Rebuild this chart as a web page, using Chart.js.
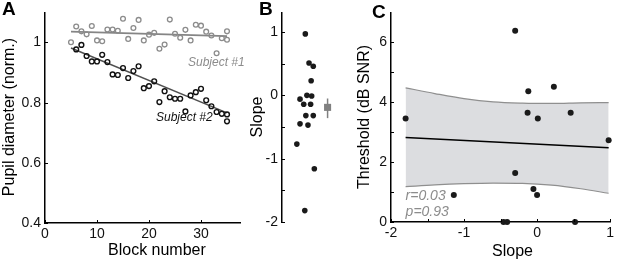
<!DOCTYPE html>
<html>
<head>
<meta charset="utf-8">
<script src="https://cdn.jsdelivr.net/npm/chart.js@4.4.0/dist/chart.umd.min.js"></script>
<style>
    html, body { margin: 0; padding: 0; background: #fff; }
    #wrap { position: relative; width: 617px; height: 259px; overflow: hidden; }
    canvas { position: absolute; top: 0; }
    #chartA { left: 0; }
    #chartB { left: 240px; }
    #chartC { left: 340px; }
</style>
</head>
<body>
<div id="wrap">
    <canvas id="chartA" width="250" height="259"></canvas>
    <canvas id="chartB" width="100" height="259"></canvas>
    <canvas id="chartC" width="277" height="259"></canvas>
</div>
<script>
// Panel A - pupil diameter per block, two subjects
const blocks1 = [5, 6, 7, 8, 9, 10, 11, 12, 13, 14, 15, 16, 17, 18, 19, 20, 21, 22, 23, 24, 25, 26, 27, 28, 29, 30, 31, 32, 33, 34, 35, 35];
const pupil1 = [1.001, 1.053, 1.037, 1.027, 1.055, 1.007, 1.004, 1.043, 1.043, 1.039, 1.079, 1.012, 1.048, 1.075, 1.007, 1.026,
    1.032, 0.979, 0.993, 1.076, 1.029, 1.016, 1.042, 1.007, 1.059, 1.056, 1.036, 1.023, 0.964, 1.014, 1.037, 1.009];
const blocks2 = [6, 7, 8, 9, 10, 11, 12, 13, 14, 15, 16, 17, 18, 19, 20, 21, 22, 23, 24, 25, 26, 27, 28, 29, 30, 31, 32, 33, 34, 35, 35];
const pupil2 = [0.977, 0.992, 0.955, 0.937, 0.937, 0.959, 0.935, 0.894, 0.892, 0.915, 0.882, 0.905, 0.921, 0.848, 0.855, 0.871,
    0.802, 0.838, 0.818, 0.813, 0.813, 0.771, 0.824, 0.835, 0.846, 0.808, 0.788, 0.769, 0.763, 0.761, 0.738];
const fit1X = [5, 35];
const fit1Y = [1.036, 1.021];
const fit2X = [5, 35];
const fit2Y = [0.982, 0.766];
const blockTicks = [0, 10, 20, 30];
const pupilTicks = [0.4, 0.6, 0.8, 1];

// Panel B - slope per subject (jittered strip) and mean with error bar
const slopes = [0.97, 0.51, 0.46, 0.23, -0.06, -0.14, 0.0, -0.01, -0.14, -0.32, -0.32, -0.45, -0.47, -0.77, -1.16, -1.82];
const slopeJitter = [0.44, 0.51, 0.59, 0.55, 0.34, 0.41, 0.47, 0.56, 0.54, 0.45, 0.59, 0.34, 0.49, 0.28, 0.61, 0.43];
const summaryPos = 0.86;
const slopeMean = -0.19;
const slopeCI = [-0.36, -0.05];
const slopeTicks = [-2, -1, 0, 1];
const slopeMinor = [-1.5, -0.5, 0.5];

// Panel C - threshold vs slope with regression and confidence band
const subjSlope = [-1.80, -1.14, -0.30, -0.30, -0.12, -0.13, 0.01, -0.05, 0.00, 0.23, 0.46, 0.98, -0.46, -0.41, 0.52];
const threshold = [3.46, 0.90, 6.39, 1.64, 4.37, 3.65, 3.46, 1.10, 0.90, 4.52, 3.65, 2.73, 0, 0, 0];
const regX = [-1.8, 0.98];
const regY = [2.82, 2.48];
const bandX = [-1.8, -1.4, -1.0, -0.6, -0.2, 0.2, 0.6, 0.98];
const bandUpper = [4.48, 4.29, 4.12, 4.01, 3.97, 3.96, 3.98, 3.99];
const bandLower = [1.18, 1.24, 1.28, 1.30, 1.29, 1.23, 1.11, 0.96];
const cXTicks = [-2, -1, 0, 1];
const cXMinor = [-1.5, -0.5, 0.5];
const cYTicks = [0, 2, 4, 6];
const cYMinor = [1, 3, 5];

const FONT = '"Liberation Sans", Arial, sans-serif';
Chart.defaults.font.family = FONT;
Chart.defaults.font.size = 14;
Chart.defaults.color = '#111';

function pts(xs, ys) {
    return xs.map((x, i) => ({ x: x, y: ys[i] }));
}

// linear scale with fixed size, hand-picked tick values, axis line only
function makeScale(min, max, tickValues, fitSize, horizontal, display) {
    return {
        type: 'linear',
        display: display !== false,
        min: min,
        max: max,
        grid: { display: false, drawTicks: false },
        border: { display: true, color: '#000', width: 1.5 },
        ticks: {
            padding: horizontal ? 3 : 4,
            font: { size: 14 },
            callback: function (value) { return String(value); }
        },
        afterBuildTicks: function (scale) {
            scale.ticks = tickValues.map(v => ({ value: v }));
        },
        afterFit: function (scale) {
            if (horizontal) scale.height = fitSize; else scale.width = fitSize;
        }
    };
}

// inward tick marks, Matlab style
function drawInTicks(chart, xVals, yVals) {
    const { ctx, chartArea, scales } = chart;
    ctx.save();
    ctx.strokeStyle = '#000';
    ctx.lineWidth = 1;
    ctx.beginPath();
    xVals.forEach(v => {
        const px = Math.round(scales.x.getPixelForValue(v)) + 0.5;
        ctx.moveTo(px, chartArea.bottom);
        ctx.lineTo(px, chartArea.bottom - 3);
    });
    yVals.forEach(v => {
        const py = Math.round(scales.y.getPixelForValue(v)) + 0.5;
        ctx.moveTo(chartArea.left, py);
        ctx.lineTo(chartArea.left + 3, py);
    });
    ctx.stroke();
    ctx.restore();
}

function drawText(ctx, text, x, y, font, color, rotate) {
    ctx.save();
    ctx.font = font;
    ctx.fillStyle = color;
    ctx.textBaseline = 'alphabetic';
    ctx.translate(x, y);
    if (rotate) {
        ctx.rotate(-Math.PI / 2);
        ctx.textAlign = 'center';
    } else {
        ctx.textAlign = 'left';
    }
    ctx.fillText(text, 0, 0);
    ctx.restore();
}

const commonOptions = {
    responsive: false,
    animation: false,
    events: [],
    plugins: { legend: { display: false }, tooltip: { enabled: false } }
};

// ---------- A ----------
new Chart(document.getElementById('chartA'), {
    type: 'scatter',
    data: {
        datasets: [{
            data: pts(blocks1, pupil1),
            borderColor: '#8c8c8c',
            backgroundColor: 'transparent',
            pointRadius: 2.4,
            pointBorderWidth: 1.3,
            clip: false
        }, {
            data: pts(blocks2, pupil2),
            borderColor: '#111',
            backgroundColor: 'transparent',
            pointRadius: 2.4,
            pointBorderWidth: 1.4,
            clip: false
        }, {
            data: pts(fit1X, fit1Y),
            showLine: true,
            borderColor: '#858585',
            borderWidth: 1.6,
            pointRadius: 0
        }, {
            data: pts(fit2X, fit2Y),
            showLine: true,
            borderColor: '#505050',
            borderWidth: 1.6,
            pointRadius: 0
        }]
    },
    options: Object.assign({}, commonOptions, {
        layout: { padding: { top: 12, right: 10, left: 0, bottom: 0 } },
        scales: {
            x: makeScale(0, 37.5, blockTicks, 36, true),
            y: makeScale(0.4, 1.1, pupilTicks, 45, false)
        }
    }),
    plugins: [{
        id: 'panelA',
        afterDraw: function (chart) {
            const ctx = chart.ctx;
            drawInTicks(chart, blockTicks, pupilTicks);
            drawText(ctx, 'A', 2, 15, 'bold 19px ' + FONT, '#000');
            drawText(ctx, 'Pupil diameter (norm.)', 13.5, 117, '16px ' + FONT, '#000', true);
            drawText(ctx, 'Block number', 108, 255, '16px ' + FONT, '#000');
            drawText(ctx, 'Subject #1', 188, 65.5, 'italic 12px ' + FONT, '#8c8c8c');
            drawText(ctx, 'Subject #2', 156, 121, 'italic 12px ' + FONT, '#111');
        }
    }]
});

// ---------- B ----------
new Chart(document.getElementById('chartB'), {
    type: 'scatter',
    data: {
        datasets: [{
            data: pts(slopeJitter, slopes),
            borderColor: '#1a1a1a',
            backgroundColor: '#1a1a1a',
            pointRadius: 2.8,
            pointBorderWidth: 0,
            clip: false
        }, {
            data: [{ x: summaryPos, y: slopeMean }],
            pointStyle: 'rect',
            borderColor: '#808080',
            backgroundColor: '#808080',
            pointRadius: 5,
            pointBorderWidth: 0,
            clip: false
        }, {
            data: [{ x: summaryPos, y: slopeCI[0] }, { x: summaryPos, y: slopeCI[1] }],
            showLine: true,
            borderColor: '#808080',
            borderWidth: 1.5,
            pointRadius: 0
        }]
    },
    options: Object.assign({}, commonOptions, {
        layout: { padding: { top: 13, right: 0, left: 0, bottom: 37 } },
        scales: {
            x: makeScale(0, 1, [], 0, true, false),
            y: makeScale(-2, 1.3, slopeTicks, 42, false)
        }
    }),
    plugins: [{
        id: 'panelB',
        afterDraw: function (chart) {
            const ctx = chart.ctx;
            drawInTicks(chart, [], slopeTicks.concat(slopeMinor));
            drawText(ctx, 'B', 19, 15, 'bold 19px ' + FONT, '#000');
            drawText(ctx, 'Slope', 21.5, 117, '16px ' + FONT, '#000', true);
        }
    }]
});

// ---------- C ----------
new Chart(document.getElementById('chartC'), {
    type: 'scatter',
    data: {
        datasets: [{
            data: pts(subjSlope, threshold),
            borderColor: '#1a1a1a',
            backgroundColor: '#1a1a1a',
            pointRadius: 3,
            pointBorderWidth: 0,
            clip: false
        }, {
            data: pts(regX, regY),
            showLine: true,
            borderColor: '#000',
            borderWidth: 1.6,
            pointRadius: 0
        }, {
            data: pts(bandX, bandUpper),
            showLine: true,
            borderColor: '#8f8f8f',
            borderWidth: 1.2,
            backgroundColor: '#dcdde0',
            cubicInterpolationMode: 'monotone',
            fill: '+1',
            pointRadius: 0
        }, {
            data: pts(bandX, bandLower),
            showLine: true,
            borderColor: '#8f8f8f',
            borderWidth: 1.2,
            cubicInterpolationMode: 'monotone',
            fill: false,
            pointRadius: 0
        }]
    },
    options: Object.assign({}, commonOptions, {
        layout: { padding: { top: 8, right: 3, left: 0, bottom: 0 } },
        plugins: {
            legend: { display: false },
            tooltip: { enabled: false },
            filler: { drawTime: 'beforeDatasetsDraw' }
        },
        scales: {
            x: makeScale(-2, 1, cXTicks, 37, true),
            y: makeScale(0, 7, cYTicks, 51, false)
        }
    }),
    plugins: [{
        id: 'panelC',
        afterDraw: function (chart) {
            const ctx = chart.ctx;
            const x0 = chart.scales.x.getPixelForValue(bandX[0]);
            drawInTicks(chart, cXTicks.concat(cXMinor), cYTicks.concat(cYMinor));
            drawText(ctx, 'C', 32, 17.5, 'bold 19px ' + FONT, '#000');
            drawText(ctx, 'Threshold (dB SNR)', 28.5, 117, '16px ' + FONT, '#000', true);
            drawText(ctx, 'Slope', 152, 255.5, '16px ' + FONT, '#000');
            drawText(ctx, 'r=0.03', x0, 200, 'italic 14px ' + FONT, '#8c8c8c');
            drawText(ctx, 'p=0.93', x0, 216, 'italic 14px ' + FONT, '#8c8c8c');
        }
    }]
});
</script>
</body>
</html>
